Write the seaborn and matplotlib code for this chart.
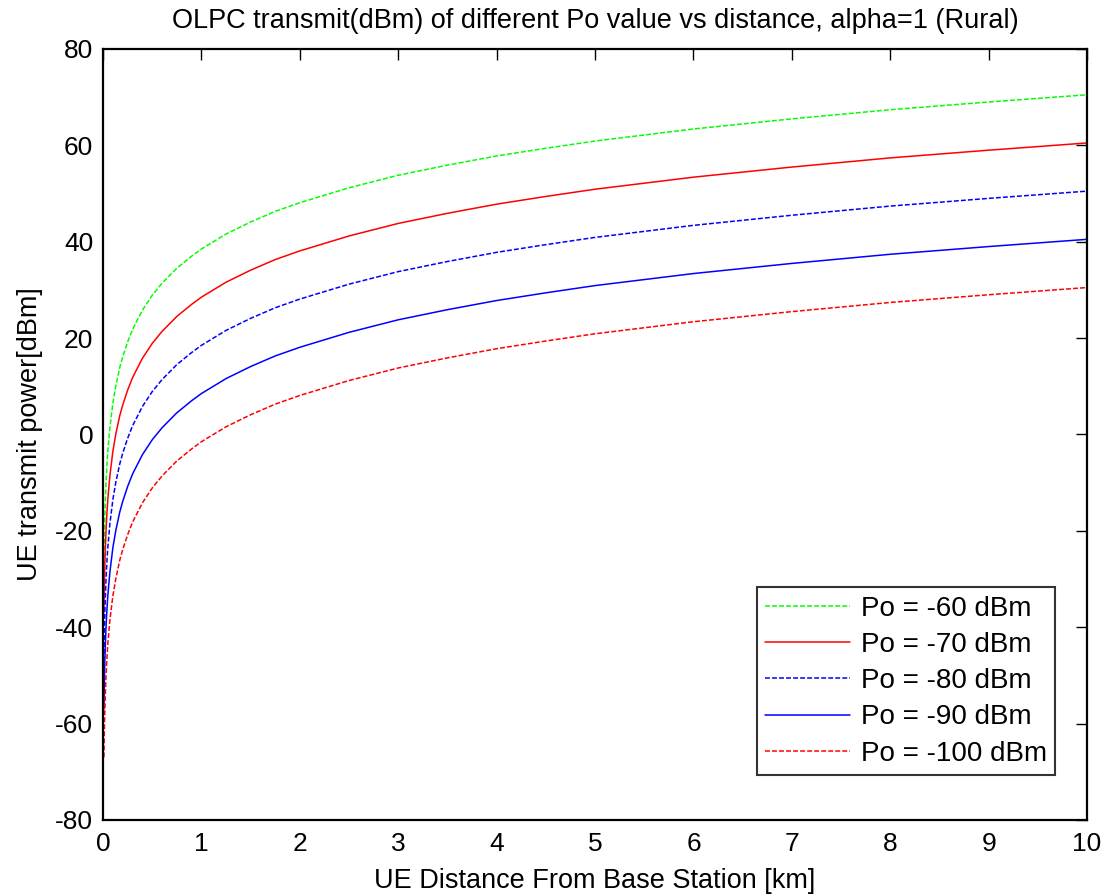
import matplotlib
matplotlib.use("Agg")
import matplotlib.pyplot as plt
import seaborn as sns
import pandas as pd

distance_km = [0.009, 0.012, 0.015, 0.02, 0.03, 0.04, 0.05, 0.07, 0.1, 0.13,
               0.17, 0.2, 0.25, 0.3, 0.4, 0.5, 0.6, 0.75, 0.9, 1,
               1.25, 1.5, 1.75, 2, 2.5, 3, 3.5, 4, 4.5, 5,
               6, 7, 8, 9, 10]

po_m60 = [-27.0, -23.0, -19.9, -15.9, -10.2, -6.2, -3.1, 1.5, 6.5, 10.1,
          13.9, 16.1, 19.2, 21.8, 25.8, 28.9, 31.4, 34.5, 37.0, 38.5,
          41.6, 44.1, 46.3, 48.1, 51.2, 53.8, 55.9, 57.8, 59.4, 60.9,
          63.4, 65.5, 67.4, 69.0, 70.5]
po_m70 = [-37.0, -33.0, -29.9, -25.9, -20.2, -16.2, -13.1, -8.5, -3.5, 0.1,
          3.9, 6.1, 9.2, 11.8, 15.8, 18.9, 21.4, 24.5, 27.0, 28.5,
          31.6, 34.1, 36.3, 38.1, 41.2, 43.8, 45.9, 47.8, 49.4, 50.9,
          53.4, 55.5, 57.4, 59.0, 60.5]
po_m80 = [-47.0, -43.0, -39.9, -35.9, -30.2, -26.2, -23.1, -18.5, -13.5, -9.9,
          -6.1, -3.9, -0.8, 1.8, 5.8, 8.9, 11.4, 14.5, 17.0, 18.5,
          21.6, 24.1, 26.3, 28.1, 31.2, 33.8, 35.9, 37.8, 39.4, 40.9,
          43.4, 45.5, 47.4, 49.0, 50.5]
po_m90 = [-57.0, -53.0, -49.9, -45.9, -40.2, -36.2, -33.1, -28.5, -23.5, -19.9,
          -16.1, -13.9, -10.8, -8.2, -4.2, -1.1, 1.4, 4.5, 7.0, 8.5,
          11.6, 14.1, 16.3, 18.1, 21.2, 23.8, 25.9, 27.8, 29.4, 30.9,
          33.4, 35.5, 37.4, 39.0, 40.5]
po_m100 = [-67.0, -63.0, -59.9, -55.9, -50.2, -46.2, -43.1, -38.5, -33.5, -29.9,
           -26.1, -23.9, -20.8, -18.2, -14.2, -11.1, -8.6, -5.5, -3.0, -1.5,
           1.6, 4.1, 6.3, 8.1, 11.2, 13.8, 15.9, 17.8, 19.4, 20.9,
           23.4, 25.5, 27.4, 29.0, 30.5]

series_labels = ["Po = -60 dBm", "Po = -70 dBm", "Po = -80 dBm",
                 "Po = -90 dBm", "Po = -100 dBm"]
series_values = [po_m60, po_m70, po_m80, po_m90, po_m100]
series_colors = ["#00ff00", "#ff0000", "#0000ff", "#0000ff", "#ff0000"]
series_dashed = [True, False, True, False, True]

x_ticks = list(range(0, 11))
y_ticks = list(range(-80, 81, 20))

sns.set_theme(style="white")
plt.rcParams["font.family"] = ["Liberation Sans", "DejaVu Sans"]
plt.rcParams["axes.unicode_minus"] = False
plt.rcParams["text.color"] = "black"
plt.rcParams["axes.labelcolor"] = "black"

fig = plt.figure(figsize=(11.15, 8.94), dpi=100)
ax = fig.add_axes([0.0924, 0.0828, 0.8826, 0.8624])

for lab, vals, col, dashed in zip(series_labels, series_values, series_colors, series_dashed):
    df = pd.DataFrame({"d": distance_km, "p": vals})
    line_kw = dict(dashes=(3.2, 1.4)) if dashed else dict(linestyle="-")
    sns.lineplot(data=df, x="d", y="p", ax=ax, color=col, linewidth=1.1,
                 label=lab, estimator=None, sort=False, **line_kw)

ax.set_xlim(0, 10)
ax.set_ylim(-80, 80)
ax.set_xticks(x_ticks)
ax.set_yticks(y_ticks)
ax.tick_params(direction="in", length=8, width=1, top=True, right=True,
               labelsize=19, colors="black", pad=7)
ax.tick_params(axis="x", pad=9)
for sp in ax.spines.values():
    sp.set_color("black")
    sp.set_linewidth(1.6)
ax.grid(False)

ax.set_title("OLPC transmit(dBm) of different Po value vs distance, alpha=1 (Rural)",
             fontsize=19.5, pad=15, color="black")
ax.set_xlabel("UE Distance From Base Station [km]", fontsize=19.5, labelpad=8)
ax.set_ylabel("UE transmit power[dBm]", fontsize=19.5, labelpad=9)

leg = ax.legend(loc="lower right", fontsize=20, frameon=True, fancybox=False,
                edgecolor="black", handlelength=3.05, handletextpad=0.4,
                borderpad=0.3, labelspacing=0.37, borderaxespad=0,
                bbox_to_anchor=(0.9675, 0.0584))
leg.get_frame().set_linewidth(1.5)
for t in leg.get_texts():
    t.set_color("black")

fig.savefig("out.png", dpi=100)
